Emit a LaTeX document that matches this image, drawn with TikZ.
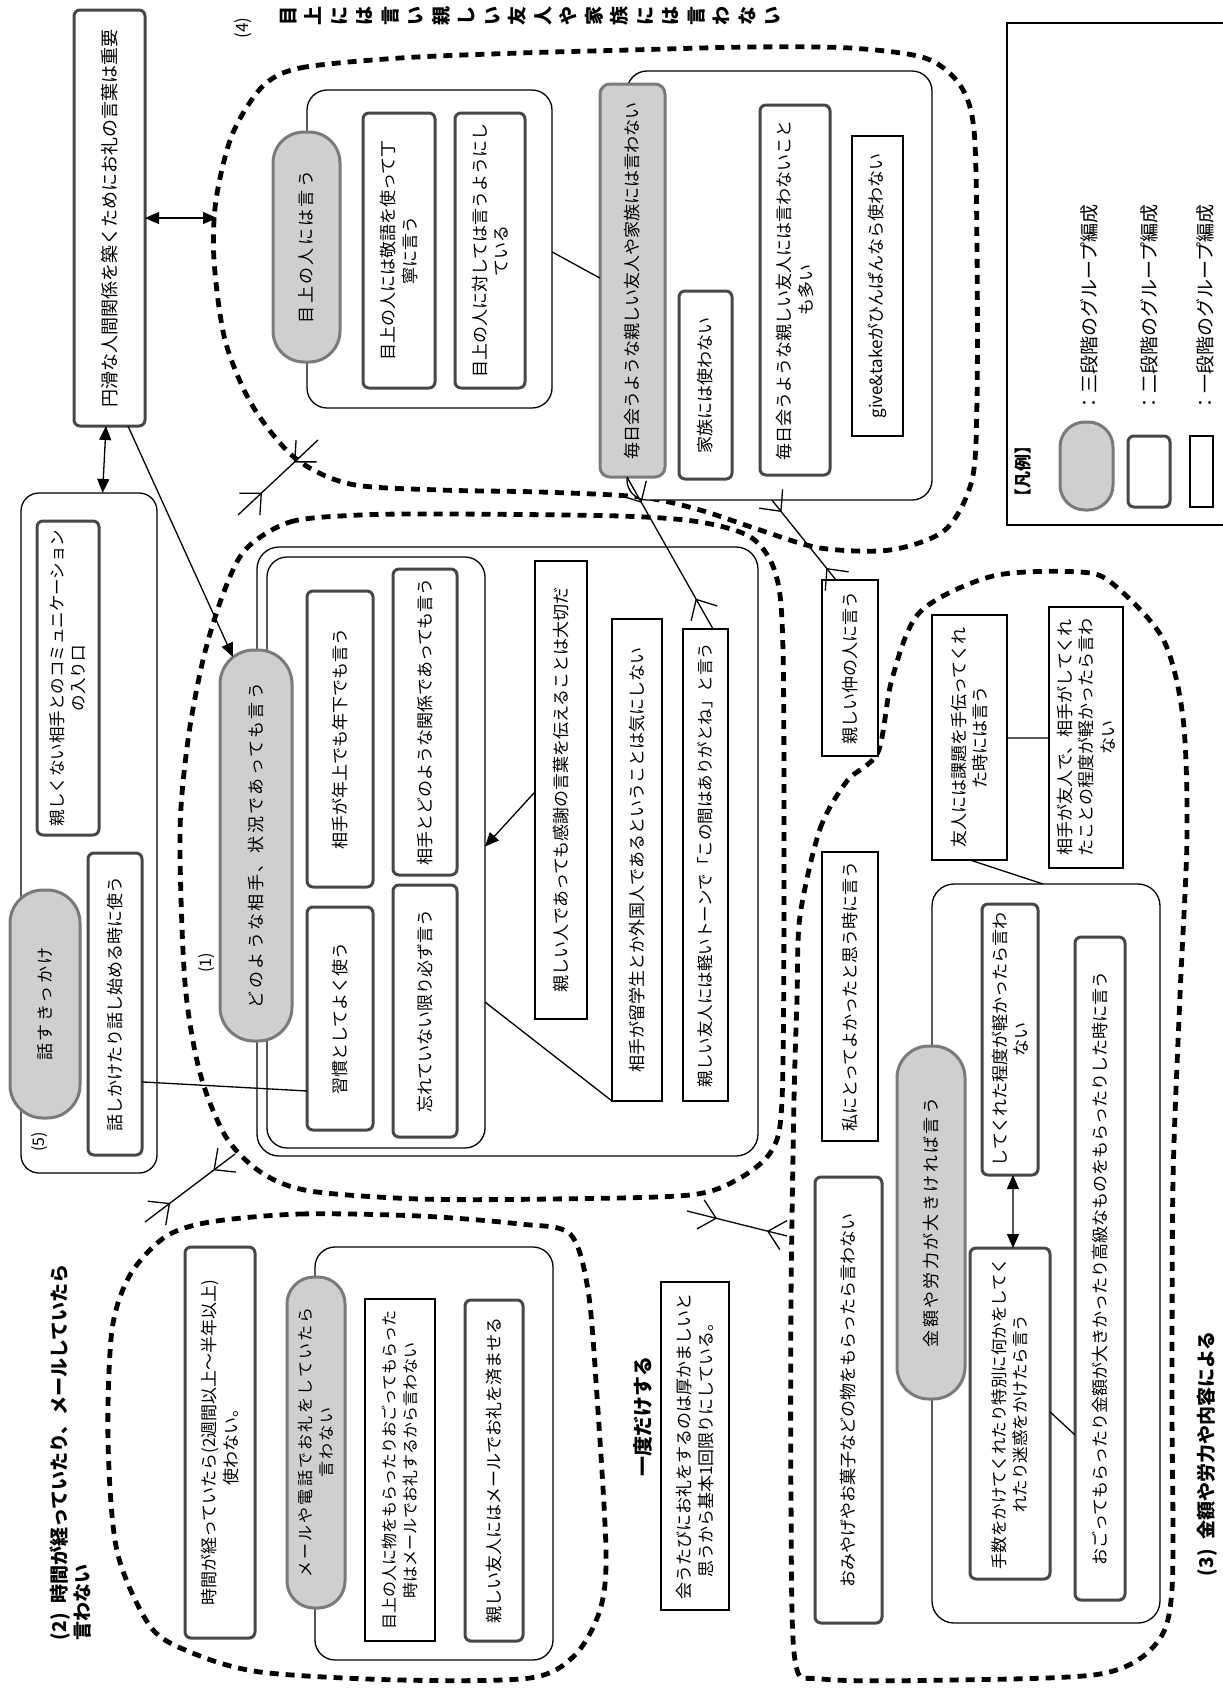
\documentclass[tikz,border=0pt]{standalone}
\usepackage{fontspec}
\setmainfont{Noto Sans CJK JP}
\usetikzlibrary{calc,arrows.meta,decorations.markings}
\newcommand\bx[7]{\node[#2, minimum width={(#6)-(#4)}, minimum height={(#5)-(#3)}] (#1) at ({((#3)+(#5))/2},{((#4)+(#6))/2}) {#7};}
\tikzset{
  rbase/.style={rotate=90, inner sep=0pt, outer sep=0pt, align=center, font=\fontsize{17}{21.5}\selectfont},
  fs/.style={font=\fontsize{#1}{21}\selectfont},
  spaced/.style={font=\fontsize{#1}{21}\selectfont\addfontfeature{LetterSpace=14}},
  spaced/.default=17,
  lone/.style={rbase, draw=black, line width=1.4pt, fill=white},
  ltwo/.style={rbase, draw=black!72, line width=3pt, rounded corners=6pt, fill=white},
  lthree/.style={rbase, draw=black!52, line width=3pt, fill=black!19, rounded corners=#1},
  grp/.style={rbase, draw=black, line width=1.3pt, rounded corners=20pt, fill=white},
  lbl/.style={rbase, font=\fontsize{16}{19}\selectfont},
  ttl/.style={rbase, align=left, font=\bfseries\fontsize{19}{23}\selectfont},
  dashgroup/.style={line width=4.8pt, dash pattern=on 9pt off 7pt},
  conn/.style={line width=1.3pt},
  arr/.style={conn, -{Triangle[length=14pt,width=12pt]}},
  darr/.style={conn, {Triangle[length=14pt,width=12pt]}-{Triangle[length=14pt,width=12pt]}},
  opp/.style 2 args={conn, postaction={decorate}, decoration={markings,
     mark=at position #1 with {\arrow{Straight Barb[length=16pt,width=30pt]}},
     mark=at position #2 with {\arrowreversed{Straight Barb[length=16pt,width=30pt]}}}},
}
\begin{document}
\begin{tikzpicture}[x=1pt,y=-1pt]
\useasboundingbox (0,0) rectangle (1223,1690);
\fill[white] (0,0) rectangle (1223,1690);
% ---------- dashed group outlines ----------
\draw[dashgroup] plot[smooth cycle, tension=0.5] coordinates {(262,87) (300,68) (400,58) (520,53) (630,50) (750,47) (850,48) (925,58) (960,85) (974,130) (977,250) (977,400) (972,480) (945,530) (890,550) (820,548) (760,530) (700,510) (640,497) (540,492) (440,490) (350,484) (295,458) (252,405) (225,340) (214,260) (216,200) (232,135)};
\draw[dashgroup] plot[smooth cycle, tension=0.5] coordinates {(245,550) (290,522) (360,515) (450,514) (620,516) (700,522) (752,538) (776,575) (783,650) (784,900) (782,1100) (772,1150) (740,1178) (690,1195) (550,1199) (420,1199) (310,1191) (262,1173) (226,1137) (200,1073) (185,983) (180,833) (188,740) (203,660) (222,597)};
\draw[dashgroup] plot[smooth cycle, tension=0.5] coordinates {(210,1222) (300,1214) (420,1216) (520,1224) (570,1234) (588,1290) (597,1396) (606,1551) (600,1610) (575,1655) (530,1678) (400,1680) (260,1672) (190,1652) (150,1626) (117,1551) (108,1440) (112,1330) (130,1275) (165,1237)};
\draw[dashgroup] plot[smooth cycle, tension=0.5] coordinates {(800,916) (820,829) (847,781) (878,752) (892,679) (920,612) (993,576) (1080,572) (1113,584) (1163,639) (1183,718) (1187,837) (1180,995) (1173,1180) (1172,1400) (1172,1589) (1155,1645) (1100,1674) (950,1680) (822,1679) (795,1660) (791,1500) (791,1300) (794,1100) (797,1000)};
% ---------- main box ----------
\bx{A}{ltwo,fs=18}{74}{10}{145}{426}{円滑な人間関係を築くためにお礼の言葉は重要}
% ---------- group (5) ----------
\bx{C5}{grp,rounded corners=18pt}{21}{493}{157}{1173}{}
\bx{B5a}{ltwo,fs=16.5}{37}{521}{99}{835}{親しくない相手とのコミュニケーション\\の入り口}
\bx{B5b}{ltwo}{88}{853}{142}{1155}{話しかけたり話し始める時に使う}
\bx{P5}{lthree=33pt,spaced}{10}{890}{80}{1118}{話すきっかけ}
\node[lbl] (n5) at (40,1142) {(5)};
% ---------- group (4) ----------
\node[lbl, font=\fontsize{17}{20}\selectfont] (n4) at (243,28) {(4)};
\node[rbase, font=\bfseries\fontsize{19}{25.5}\selectfont] (t4) at (530,16) {目\\上\\に\\は\\言\\い\\親\\し\\い\\友\\人\\や\\家\\族\\に\\は\\言\\わ\\な\\い};
\bx{C4a}{grp}{307}{90}{552}{408}{}
\bx{B4a1}{ltwo}{363}{113}{435}{388}{目上の人には敬語を使って丁\\寧に言う}
\bx{B4a2}{ltwo}{455}{113}{525}{388}{目上の人に対しては言うようにし\\ている}
\bx{P4a}{lthree=31pt,spaced}{273}{132}{340}{362}{目上の人には言う}
\bx{C4b}{grp}{627}{71}{932}{500}{}
\bx{B4b1}{ltwo}{679}{291}{732}{479}{家族には使わない}
\bx{B4b2}{ltwo}{760}{105}{830}{475}{毎日会うような親しい友人には言わないこと\\も多い}
\bx{B4b3}{lone}{852}{136}{903}{436}{give\&takeがひんぱんなら使わない}
\bx{P4b}{lthree=10pt}{600}{84}{665}{477}{毎日会うような親しい友人や家族には言わない}
% ---------- group (1) ----------
\bx{C1}{grp,rounded corners=22pt}{257}{547}{758}{1156}{}
\bx{C1i}{grp}{267}{557}{485}{1148}{}
\bx{B1a}{ltwo}{307}{591}{373}{887}{相手が年上でも年下でも言う}
\bx{B1b}{ltwo}{393}{569}{457}{875}{相手とどのような関係であっても言う}
\bx{B1c}{ltwo}{307}{907}{373}{1130}{習慣としてよく使う}
\bx{B1d}{ltwo}{393}{885}{457}{1137}{忘れていない限り必ず言う}
\bx{B1e}{lone}{535}{561}{587}{1019}{親しい人であっても感謝の言葉を伝えることは大切だ}
\bx{B1f}{lone}{612}{619}{662}{1101}{相手が留学生とか外国人であるということは気にしない}
\bx{B1g}{lone,fs=16.5}{683}{629}{728}{1101}{親しい友人には軽いトーンで「この間はありがとね」と言う}
\bx{P1}{lthree=34pt,spaced}{220}{650}{292}{1041}{どのような相手、状況であっても言う}
\node[lbl] (n1) at (207,963) {(1)};
% ---------- group (2) ----------
\node[ttl, anchor=north west] (t2) at (50,1640) {(2)\hspace{0.5em}時間が経っていたり、メールしていたら\\言わない};
\bx{B2a}{ltwo}{185}{1247}{255}{1638}{時間が経っていたら(2週間以上～半年以上)\\使わない。}
\bx{C2}{grp}{315}{1247}{553}{1660}{}
\bx{B2b}{lone,fs=16}{365}{1299}{435}{1641}{目上の人に物をもらったりおごってもらった\\時はメールでお礼するから言わない}
\bx{B2c}{ltwo}{465}{1300}{523}{1641}{親しい友人にはメールでお礼を済ませる}
\bx{P2}{lthree=27pt,spaced=16}{287}{1277}{345}{1608}{メールや電話でお礼をしていたら\\言わない}
% ---------- middle ----------
\node[ttl, font=\bfseries\fontsize{20}{24}\selectfont] (once) at (643,1416) {一度だけする};
\bx{Bm}{lone}{661}{1282}{729}{1610}{会うたびにお礼をするのは厚かましいと\\思うから基本1回限りにしている。}
% ---------- group (3) ----------
\bx{B3x}{lone}{822}{580}{878}{756}{親しい仲の人に言う}
\bx{B3a}{lone}{822}{852}{878}{1141}{私にとってよかったと思う時に言う}
\bx{B3b}{ltwo}{815}{1177}{882}{1623}{おみやげやお菓子などの物をもらったら言わない}
\bx{B3f}{lone}{932}{615}{1007}{860}{友人には課題を手伝ってくれ\\た時には言う}
\bx{B3g}{lone}{1049}{607}{1123}{868}{相手が友人で、相手がしてくれ\\たことの程度が軽かったら言わ\\ない}
\bx{C3}{grp,rounded corners=22pt}{932}{884}{1160}{1623}{}
\bx{B3c}{ltwo}{982}{904}{1038}{1175}{してくれた程度が軽かったら言わ\\ない}
\bx{B3d}{ltwo,fs=16.5}{970}{1248}{1050}{1579}{手数をかけてくれたり特別に何かをしてく\\れたり迷惑をかけたら言う}
\bx{B3e}{ltwo}{1075}{937}{1125}{1600}{おごってもらったり金額が大きかったり高級なものをもらったりした時に言う}
\bx{P3}{lthree=32pt,spaced}{897}{1046}{965}{1399}{金額や労力が大きければ言う}
\node[ttl, anchor=west] (t3) at (1207,1576) {(3)\hspace{0.5em}金額や労力や内容による};
% ---------- legend ----------
\bx{LG}{lone}{1007}{23}{1240}{525}{}
\node[rbase, font=\bfseries\fontsize{17}{20}\selectfont] (lgt) at (1023,471) {【凡例】};
\bx{LG3}{lthree=25pt}{1060}{422}{1113}{510}{}
\bx{LG2}{ltwo}{1128}{436}{1170}{507}{}
\bx{LG1}{lone}{1190}{436}{1213}{507}{}
\node[rbase, font=\fontsize{19}{22}\selectfont, anchor=west] (lg3t) at (1089,412) {：三段階のグループ編成};
\node[rbase, font=\fontsize{19}{22}\selectfont, anchor=west] (lg2t) at (1149,412) {：二段階のグループ編成};
\node[rbase, font=\fontsize{19}{22}\selectfont, anchor=west] (lg1t) at (1205,412) {：一段階のグループ編成};
% ---------- connectors ----------
\coordinate (c4L) at (217,218);
\draw[darr] ($(A.south east)!0.5!(A.south west)$) -- (c4L);
\draw[darr] ($(A.north west)!0.45!(A.south west)$) -- ($(C5.north east)!0.6!(C5.south east)$);
\draw[arr] ($(A.north west)!0.76!(A.south west)$) -- ($(P1.north east)!0.18!(P1.south east)+(0,7)$);
\draw[arr] ($(B1e.north east)!0.504!(B1e.north west)$) -- ($(C1i.south east)!0.49!(C1i.south west)$);
\draw[conn] ($(C1i.south east)!0.753!(C1i.south west)$) -- (B1f.north west);
\draw[conn] ($(B5b.south east)!0.758!(B5b.south west)$) -- ($(B1c.north east)!0.825!(B1c.north west)$);
\draw[conn] ($(C4a.south east)!0.509!(C4a.south west)$) -- ($(P4b.north east)!0.494!(P4b.north west)$);
\draw[conn] ($(B3f.south east)!0.502!(B3f.south west)$) -- ($(B3g.north east)!0.502!(B3g.north west)$);
\draw[conn] ($(B3f.north west)!0.507!(B3f.south west)$) -- ($(C3.north east)!0.487!(C3.south east)$);
\draw[darr] ($(B3c.north west)!0.553!(B3c.south west)$) -- ($(B3d.north east)!0.5375!(B3d.south east)$);
\draw[conn] ($(B3d.south east)!0.495!(B3d.south west)$) -- ($(B3e.north east)!0.751!(B3e.north west)$);
\draw[opp={0.17}{0.8}] ($(P4b.north west)!0.415!(P4b.south west)$) -- ($(B1g.north east)!0.667!(B1g.south east)$);
\draw[opp={0.15}{0.85}] ($(C4b.north west)!0.475!(C4b.south west)$) -- ($(B3x.north east)!0.25!(B3x.south east)$);
\coordinate (o41a) at (238,515); \coordinate (o41b) at (318,440);
\draw[opp={0.3}{0.7}] (o41a) -- (o41b);
\coordinate (o21a) at (145,1222); \coordinate (o21b) at (235,1154);
\draw[opp={0.28}{0.76}] (o21a) -- (o21b);
\coordinate (o13a) at (687,1211); \coordinate (o13b) at (787,1236);
\draw[opp={0.3}{0.8}] (o13a) -- (o13b);
\end{tikzpicture}
\end{document}
